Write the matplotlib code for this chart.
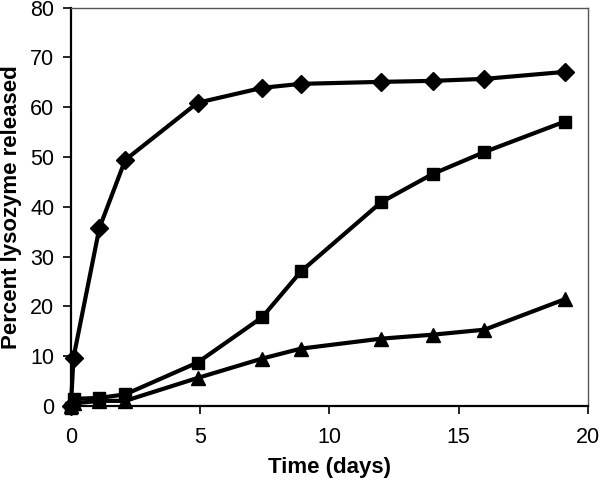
import numpy as np
import matplotlib
matplotlib.use("Agg")
import matplotlib.pyplot as plt

plt.rcParams["font.family"] = ["Liberation Sans", "DejaVu Sans"]

# ── Data ────────────────────────────────────
days = [0, 0.1, 1.1, 2.1, 4.9, 7.4, 8.9, 12.0, 14.0, 16.0, 19.1]
diamond = [0, 9.7, 35.7, 49.4, 60.9, 63.9, 64.7, 65.1, 65.3, 65.7, 67.1]
square = [-0.4, 1.4, 1.6, 2.3, 8.7, 17.8, 27.0, 40.9, 46.6, 51.0, 57.1]
triangle = [0, 0.5, 1.0, 1.0, 5.6, 9.5, 11.5, 13.5, 14.3, 15.3, 21.4]

x_ticks = [0, 5, 10, 15, 20]
y_ticks = [0, 10, 20, 30, 40, 50, 60, 70, 80]

fig = plt.figure(figsize=(6.01, 4.82), dpi=100)
ax = fig.add_axes([0.118, 0.158, 0.860, 0.826])

style = dict(color="black", lw=3.0, clip_on=False, zorder=3)
ax.plot(days, diamond, marker="D", ms=9, **style)
ax.plot(days, square, marker="s", ms=9, **style)
ax.plot(days, triangle, marker="^", ms=10, **style)

ax.set_xlim(0, 20)
ax.set_ylim(0, 80)
ax.set_xticks(x_ticks)
ax.set_yticks(y_ticks)
ax.tick_params(direction="out", length=6, width=1.2, labelsize=15.5, pad=6)
ax.tick_params(axis="x", pad=9)

for side in ["left", "bottom"]:
    ax.spines[side].set_linewidth(1.6)
for side in ["top", "right"]:
    ax.spines[side].set_linewidth(1.0)
    ax.spines[side].set_color("#555555")

ax.set_xlabel("Time (days)", fontsize=16, fontweight="bold", labelpad=7)
ax.set_ylabel("Percent lysozyme released", fontsize=16, fontweight="bold", labelpad=6)

fig.savefig("out.png", dpi=100)
